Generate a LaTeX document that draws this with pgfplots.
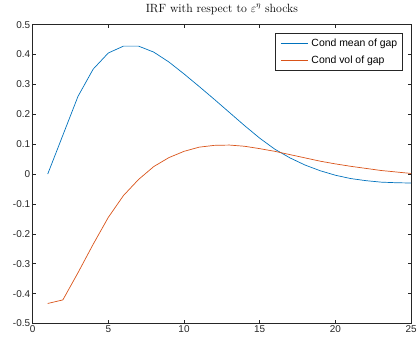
\documentclass[border=0pt]{standalone}
\usepackage{fontspec}
\usepackage{pgfplots}
\pgfplotsset{compat=1.18}
\newfontfamily\arial{Liberation Sans}
\definecolor{mblue}{rgb}{0,0.447,0.741}
\definecolor{morange}{rgb}{0.85,0.325,0.098}
\definecolor{axgray}{rgb}{0.15,0.15,0.15}
\begin{document}
\begin{tikzpicture}
\begin{axis}[
  scale only axis,
  width=380bp, height=300bp,
  xmin=0, xmax=25, ymin=-0.5, ymax=0.5,
  xtick={0,5,10,15,20,25},
  xticklabels={0,5,10,15,20,25},
  ytick={-0.5,-0.4,-0.3,-0.2,-0.1,0,0.1,0.2,0.3,0.4,0.5},
  yticklabels={-0.5,-0.4,-0.3,-0.2,-0.1,0,0.1,0.2,0.3,0.4,0.5},
  tick align=inside,
  major tick length=3.5bp,
  tick style={axgray, line width=0.5pt},
  axis line style={axgray, line width=0.6pt},
  ticklabel style={font=\arial\fontsize{10}{12}\selectfont, text=axgray},
  xticklabel style={yshift=1bp},
  yticklabel style={xshift=1bp},
  title={\fontsize{12}{14}\selectfont IRF with respect to $\varepsilon^\eta$ shocks},
  title style={at={(0.5,1)}, anchor=base, yshift=6.5bp, inner sep=0pt},
  legend style={at={(0.977,0.971)}, anchor=north east, draw=axgray, line width=0.5pt,
    font=\arial\fontsize{10.5}{12.6}\selectfont, inner sep=5bp, row sep=6.2bp,
    column sep=3.4bp,
    nodes={inner sep=0bp, text height=8bp, text depth=2.5bp},
    cells={anchor=west}},
  legend image code/.code={\draw[#1] (0bp,0bp) -- (27bp,0bp);},
]
\addplot[mblue, line width=0.7pt] coordinates {
(1,0) (2,0.13) (3,0.26) (4,0.351) (5,0.405) (6,0.428) (7,0.428) (8,0.408)
(9,0.375) (10,0.335) (11,0.293) (12,0.250) (13,0.206) (14,0.162) (15,0.120)
(16,0.083) (17,0.054) (18,0.030) (19,0.011) (20,-0.004) (21,-0.015) (22,-0.022)
(23,-0.027) (24,-0.029) (25,-0.030)};
\addlegendentry{Cond mean of gap}
\addplot[morange, line width=0.7pt] coordinates {
(1,-0.433) (2,-0.421) (3,-0.33) (4,-0.235) (5,-0.145) (6,-0.072) (7,-0.018)
(8,0.025) (9,0.055) (10,0.076) (11,0.090) (12,0.096) (13,0.097) (14,0.093)
(15,0.085) (16,0.076) (17,0.065) (18,0.054) (19,0.043) (20,0.034) (21,0.026)
(22,0.019) (23,0.012) (24,0.007) (25,0.002)};
\addlegendentry{Cond vol of gap}
\end{axis}
\path[use as bounding box] ([shift={(-32.7bp,-17.3bp)}]current axis.south west) rectangle ([shift={(7bp,24.7bp)}]current axis.north east);
\end{tikzpicture}
\end{document}
